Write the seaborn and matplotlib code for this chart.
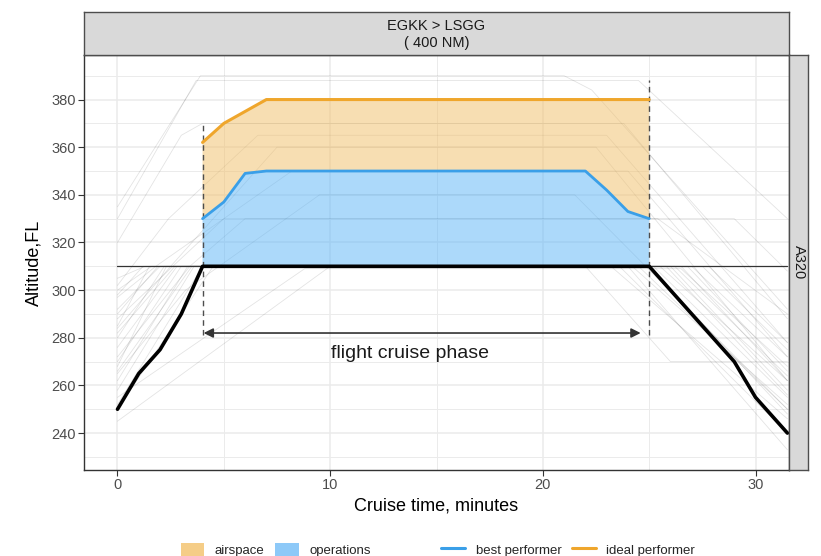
import numpy as np
import pandas as pd
import matplotlib
matplotlib.use("Agg")
import matplotlib.pyplot as plt
import seaborn as sns
from matplotlib.patches import Patch
from matplotlib.lines import Line2D
from matplotlib.ticker import MultipleLocator, FixedLocator

sns.set_theme(style="white")
plt.rcParams['font.family'] = ['Liberation Sans', 'DejaVu Sans']

# ---- data -------------------------------------------------------------
route_label = "EGKK > LSGG\n( 400 NM)"
aircraft_label = "A320"

# reference flight (climb, cruise at FL310, descent)
ref_time = [0, 1, 2, 3, 4, 25, 29, 30, 31.5]
ref_alt = [250, 265, 275, 290, 310, 310, 270, 255, 240]

# best performer and ideal performer cruise profiles
best_time = [4, 5, 6, 7, 22, 23, 24, 25]
best_alt = [330, 337, 349, 350, 350, 342, 333, 330]
ideal_time = [4, 5, 7, 25]
ideal_alt = [362, 370, 380, 380]

# cruise-phase boundaries
phase_start = 4
phase_end = 25
phase_marker_low = [281, 281]
phase_marker_high = [370, 388]
arrow_level = 282
cruise_level = 310

# other flights on the same city pair
bg_time = [
    [0, 3.9, 21.0, 22.3, 31.5],
    [0, 3.0, 4.0, 23.8, 31.5],
    [0, 2.4, 6.6, 23.0, 31.5],
    [0, 1.8, 8.2, 24.0, 31.5],
    [0, 2.6, 5.0, 29.0, 31.5],
    [0, 1.3, 25.5, 31.5],
    [0, 2.0, 26.0, 31.5],
    [0, 2.2, 22.0, 26.0, 31.5],
    [0, 2.8, 26.5, 31.5],
    [0, 3.0, 24.5, 31.5],
    [0, 3.3, 25.0, 31.5],
    [0, 3.6, 27.0, 31.5],
    [0, 4.5, 25.8, 31.5],
    [0, 8.8, 26.5, 31.5],
    [0, 10.0, 27.5, 31.5],
    [0, 2.5, 7.5, 22.5, 31.5],
    [0, 3.2, 9.5, 21.5, 31.5],
    [0, 1.6, 24.0, 31.5],
    [0, 2.3, 23.2, 31.5],
    [0, 1.5, 26.8, 31.5],
    [0, 1.2, 25.2, 31.5],
    [0, 2.7, 24.2, 31.5],
    [0, 3.5, 26.2, 31.5],
    [0, 1.9, 23.6, 31.5],
    [0, 4.0, 27.8, 31.5],
    [0, 3.7, 24.5, 31.5],
    [0, 3.4, 6.0, 25.4, 31.5],
]
bg_alt = [
    [335, 390, 390, 384, 292],
    [320, 365, 370, 370, 288],
    [302, 330, 365, 365, 278],
    [297, 310, 350, 350, 272],
    [288, 310, 330, 330, 308],
    [305, 310, 310, 262],
    [292, 310, 310, 258],
    [280, 310, 310, 270, 270],
    [276, 310, 310, 262],
    [270, 310, 310, 250],
    [262, 310, 310, 248],
    [258, 310, 310, 272],
    [250, 310, 310, 256],
    [255, 309, 309, 268],
    [245, 310, 310, 275],
    [284, 310, 360, 360, 262],
    [265, 300, 340, 340, 250],
    [300, 310, 310, 233],
    [268, 310, 310, 246],
    [285, 310, 310, 266],
    [298, 310, 310, 255],
    [282, 310, 310, 252],
    [266, 310, 310, 264],
    [290, 310, 310, 240],
    [252, 310, 310, 278],
    [330, 388, 388, 330],
    [272, 310, 330, 330, 290],
]

# ---- styling ------------------------------------------------------------
ORANGE_LINE = "#EFA62C"
BLUE_LINE = "#3A9FE8"
ORANGE_FILL = "#F1BF67"
BLUE_FILL = "#5BB5F7"
ORANGE_KEY = "#F5CD87"
BLUE_KEY = "#8DC9F8"
GRID = "#ebebeb"
DARK = "#333333"

W, H = 821, 556
fig = plt.figure(figsize=(W / 100, H / 100), dpi=100)
ax = fig.add_axes([84 / W, 1 - 470 / H, 705 / W, 415 / H])

bg_df = pd.DataFrame({
    "time": [t for tr in bg_time for t in tr],
    "alt": [a for tr in bg_alt for a in tr],
    "flight": [i for i, tr in enumerate(bg_time) for _ in tr],
})
sns.lineplot(data=bg_df, x="time", y="alt", units="flight", estimator=None,
             sort=False, color="black", alpha=0.11, linewidth=0.6,
             legend=False, ax=ax, zorder=2)

# shaded areas: operations (reference -> best), airspace (best -> ideal)
ax.fill(list(best_time) + [phase_end, phase_start],
        list(best_alt) + [cruise_level, cruise_level],
        color=BLUE_FILL, alpha=0.5, lw=0, zorder=3)
ax.fill(list(ideal_time) + best_time[::-1],
        list(ideal_alt) + best_alt[::-1],
        color=ORANGE_FILL, alpha=0.5, lw=0, zorder=3)

# cruise level across the whole panel
sns.lineplot(x=[ref_time[0], ref_time[-1]], y=[cruise_level, cruise_level],
             color=DARK, linewidth=0.9, ax=ax, zorder=4)

# phase boundaries
for xv, lo, hi in zip([phase_start, phase_end], phase_marker_low, phase_marker_high):
    ax.plot([xv, xv], [lo, hi], color="#4d4d4d", lw=1.0,
            linestyle=(0, (4, 3)), zorder=5)

sns.lineplot(x=ref_time, y=ref_alt, sort=False, color="black",
             linewidth=2.6, ax=ax, zorder=6)
sns.lineplot(x=best_time, y=best_alt, sort=False, color=BLUE_LINE,
             linewidth=2.0, ax=ax, zorder=6)
sns.lineplot(x=ideal_time, y=ideal_alt, sort=False, color=ORANGE_LINE,
             linewidth=2.2, ax=ax, zorder=6)

ax.annotate("", xy=(phase_start + 0.05, arrow_level),
            xytext=(phase_end - 0.4, arrow_level),
            arrowprops=dict(arrowstyle="<|-|>", color=DARK, lw=1.2,
                            mutation_scale=14, shrinkA=0, shrinkB=0),
            zorder=6)
ax.text(13.75, 273.5, "flight cruise phase", ha="center", va="center",
        fontsize=14, color="#1a1a1a", zorder=7)

# axes
ax.set_xlim(-1.575, 31.575)
ax.set_ylim(224.5, 398.7)
ax.xaxis.set_major_locator(MultipleLocator(10))
ax.xaxis.set_minor_locator(FixedLocator([5, 15, 25]))
ax.yaxis.set_major_locator(FixedLocator(list(range(240, 381, 20))))
ax.yaxis.set_minor_locator(FixedLocator(list(range(230, 391, 20))))
ax.grid(which="major", color=GRID, lw=1.1, zorder=0)
ax.grid(which="minor", color=GRID, lw=0.7, zorder=0)
ax.set_axisbelow(True)
ax.tick_params(which="major", direction="out", length=4, width=0.8,
               color=DARK, labelsize=10.5, labelcolor="#4d4d4d", pad=2,
               bottom=True, left=True)
ax.tick_params(which="minor", length=0)
for s in ax.spines.values():
    s.set_color(DARK)
    s.set_linewidth(1.0)
ax.set_xlabel("Cruise time, minutes", fontsize=13, color="black", labelpad=4)
ax.set_ylabel("Altitude,FL", fontsize=13, color="black", labelpad=6)

# facet strips
top = fig.add_axes([84 / W, 1 - 55 / H, 705 / W, 43 / H])
right = fig.add_axes([789 / W, 1 - 470 / H, 19 / W, 415 / H])
for st in (top, right):
    st.set_facecolor("#d9d9d9")
    st.set_xticks([])
    st.set_yticks([])
    for s in st.spines.values():
        s.set_color("#4d4d4d")
        s.set_linewidth(1.0)
top.text(0.5, 0.47, route_label, ha="center", va="center", fontsize=10.5,
         color="#1a1a1a", linespacing=1.3, transform=top.transAxes)
right.text(0.5, 0.5, aircraft_label, ha="center", va="center", fontsize=10.5,
           color="#1a1a1a", rotation=-90, transform=right.transAxes)

# legends
fill_handles = [Patch(facecolor=ORANGE_KEY, edgecolor="none", label="airspace"),
                Patch(facecolor=BLUE_KEY, edgecolor="none", label="operations")]
line_handles = [Line2D([], [], color=BLUE_LINE, lw=2.2, label="best performer"),
                Line2D([], [], color=ORANGE_LINE, lw=2.2, label="ideal performer")]
common = dict(ncol=2, frameon=False, fontsize=9.5, handlelength=1.8,
              handleheight=1.3, handletextpad=0.8, columnspacing=0.8,
              borderpad=0, borderaxespad=0)
fig.legend(handles=fill_handles, loc="center", bbox_to_anchor=(0.336, 0.011), **common)
fig.legend(handles=line_handles, loc="center", bbox_to_anchor=(0.692, 0.011), **common)

fig.savefig("out.png", dpi=100)
